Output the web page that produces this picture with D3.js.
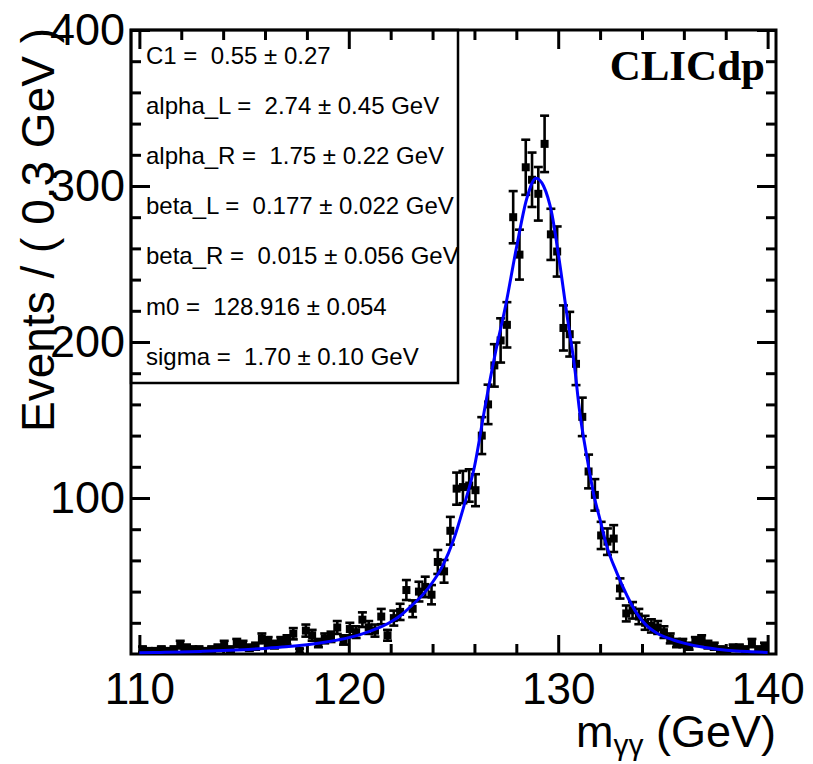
<!DOCTYPE html>
<html>
<head>
<meta charset="utf-8">
<script src="https://cdn.jsdelivr.net/npm/d3@7"></script>
<style>
  html, body { margin: 0; padding: 0; background: #fff; }
  svg text { font-family: "Liberation Sans", Arial, sans-serif; fill: #000; white-space: pre; }
</style>
</head>
<body>
<svg id="chart" width="813" height="764"></svg>
<script>
// Histogram binning: 100 bins of 0.3 GeV starting at 110 GeV
const binLow = 110;
const binWidth = 0.3;

// Events per bin
const counts = [
  3, 2, 2, 3, 2, 3, 6, 4, 3, 3,
  2, 3, 4, 6, 3, 7, 6, 4, 5, 10,
  8, 6, 8, 9, 13, 2, 15, 12, 7, 10,
  11, 17, 9, 16, 14, 22, 17, 15, 24, 12,
  23, 27, 41, 29, 40, 43, 38, 59, 53, 79,
  106, 107, 108, 105, 140, 160, 185, 201, 211, 280,
  256, 312, 304, 295, 327, 269, 258, 209, 205, 186,
  152, 117, 102, 76, 72, 74, 42, 26, 28, 24,
  20, 18, 17, 14, 10, 7, 7, 5, 8, 9,
  6, 5, 3, 2, 4, 4, 3, 7, 3, 5
];

// Fitted signal shape, sampled along m_yy
const fitX = [110.0, 111.0, 112.0, 113.0, 114.0, 115.0, 116.0, 117.0, 118.0, 119.0,
  120.0, 121.0, 122.0, 122.5, 123.0, 123.5, 124.0, 124.5, 125.0, 125.5,
  126.0, 126.5, 127.0, 127.5, 128.0, 128.5, 128.94, 129.3, 129.7, 130.0,
  130.4, 130.8, 131.0, 131.4, 131.7, 132.0, 132.3, 132.8, 133.3, 133.75,
  134.2, 134.7, 135.5, 136.0, 137.0, 137.6, 138.5, 139.2, 140.0];
const fitY = [0.8, 1.0, 1.3, 1.7, 2.2, 2.8, 3.6, 4.6, 6.0, 7.9,
  10.5, 14.5, 20.5, 25, 31, 37.5, 46, 57, 73, 95,
  120, 158, 193, 224, 260, 292, 305, 300, 282, 257,
  219, 182, 158, 124, 102, 86, 70, 52, 37, 26,
  18.5, 13.5, 9, 7, 4.2, 3.1, 2.0, 1.5, 1.0];

// Axis ticks
const xMajorTicks = [110, 120, 130, 140];
const xMinorTicks = [112, 114, 116, 118, 122, 124, 126, 128, 132, 134, 136, 138];
const yMajorTicks = [100, 200, 300, 400];
const yMinorTicks = [20, 40, 60, 80, 120, 140, 160, 180, 220, 240, 260, 280, 320, 340, 360, 380];

// Fit result box
const fitParams = [
  "C1 =  0.55 \u00b1 0.27",
  "alpha_L =  2.74 \u00b1 0.45 GeV",
  "alpha_R =  1.75 \u00b1 0.22 GeV",
  "beta_L =  0.177 \u00b1 0.022 GeV",
  "beta_R =  0.015 \u00b1 0.056 GeV",
  "m0 =  128.916 \u00b1 0.054",
  "sigma =  1.70 \u00b1 0.10 GeV"
];

const svg = d3.select("#chart");
svg.append("rect").attr("width", 813).attr("height", 764).attr("fill", "#fff");

const frame = { left: 131, right: 776, top: 30, bottom: 654 };
const x = d3.scaleLinear().domain([109.6, 140.4]).range([frame.left, frame.right]);
const y = d3.scaleLinear().domain([0, 400]).range([frame.bottom, frame.top]);

// Parameter box (drawn below the axes so the ticks stay visible)
svg.append("rect")
  .attr("x", frame.left).attr("y", frame.top)
  .attr("width", 327).attr("height", 353)
  .attr("fill", "#fff").attr("stroke", "#000").attr("stroke-width", 2.5);

svg.append("g").selectAll("text").data(fitParams).join("text")
  .attr("x", 146)
  .attr("y", (d, i) => 64 + i * 50.1)
  .attr("font-size", 24)
  .text(d => d);

// Axes: major and minor ticks point into the frame on all four sides
function styleAxis(g) {
  g.select(".domain").remove();
  g.selectAll(".tick line").attr("stroke", "#000").attr("stroke-width", 3);
}

const major = 19, minor = 10;

svg.append("g").attr("transform", `translate(0,${frame.bottom})`)
  .call(d3.axisBottom(x).tickValues(xMinorTicks).tickSizeInner(-minor).tickFormat(""))
  .call(styleAxis);
svg.append("g").attr("transform", `translate(0,${frame.bottom})`)
  .call(d3.axisBottom(x).tickValues(xMajorTicks).tickSizeInner(-major).tickPadding(19).tickFormat(d3.format("d")))
  .call(styleAxis)
  .call(g => g.selectAll("text").attr("font-size", 44).attr("font-family", "Liberation Sans, Arial, sans-serif").attr("fill", "#000"));

svg.append("g").attr("transform", `translate(0,${frame.top})`)
  .call(d3.axisTop(x).tickValues(xMinorTicks).tickSizeInner(-minor).tickFormat(""))
  .call(styleAxis);
svg.append("g").attr("transform", `translate(0,${frame.top})`)
  .call(d3.axisTop(x).tickValues(xMajorTicks).tickSizeInner(-major).tickFormat(""))
  .call(styleAxis);

svg.append("g").attr("transform", `translate(${frame.left},0)`)
  .call(d3.axisLeft(y).tickValues(yMinorTicks).tickSizeInner(-minor).tickFormat(""))
  .call(styleAxis);
svg.append("g").attr("transform", `translate(${frame.left},0)`)
  .call(d3.axisLeft(y).tickValues(yMajorTicks).tickSizeInner(-major).tickPadding(6).tickFormat(d3.format("d")))
  .call(styleAxis)
  .call(g => g.selectAll("text").attr("font-size", 45).attr("font-family", "Liberation Sans, Arial, sans-serif").attr("fill", "#000"));

svg.append("g").attr("transform", `translate(${frame.right},0)`)
  .call(d3.axisRight(y).tickValues(yMinorTicks).tickSizeInner(-minor).tickFormat(""))
  .call(styleAxis);
svg.append("g").attr("transform", `translate(${frame.right},0)`)
  .call(d3.axisRight(y).tickValues(yMajorTicks).tickSizeInner(-major).tickFormat(""))
  .call(styleAxis);

// Plot frame
svg.append("rect")
  .attr("x", frame.left).attr("y", frame.top)
  .attr("width", frame.right - frame.left).attr("height", frame.bottom - frame.top)
  .attr("fill", "none").attr("stroke", "#000").attr("stroke-width", 3);

// Data points with Poisson error bars
const points = counts.map((c, i) => ({ m: binLow + binWidth * (i + 0.5), n: c, e: Math.sqrt(c) }));
const capHalf = 4.5, markerSize = 8;
const pts = svg.append("g").attr("stroke", "#000").attr("stroke-width", 2.6);
pts.selectAll("line.ey").data(points).join("line").attr("class", "ey")
  .attr("x1", d => x(d.m)).attr("x2", d => x(d.m))
  .attr("y1", d => y(d.n - d.e)).attr("y2", d => y(d.n + d.e));
pts.selectAll("line.ex").data(points).join("line").attr("class", "ex")
  .attr("x1", d => x(d.m - binWidth / 2)).attr("x2", d => x(d.m + binWidth / 2))
  .attr("y1", d => y(d.n)).attr("y2", d => y(d.n));
pts.selectAll("line.ct").data(points).join("line").attr("class", "ct")
  .attr("x1", d => x(d.m) - capHalf).attr("x2", d => x(d.m) + capHalf)
  .attr("y1", d => y(d.n + d.e)).attr("y2", d => y(d.n + d.e));
pts.selectAll("line.cb").data(points).join("line").attr("class", "cb")
  .attr("x1", d => x(d.m) - capHalf).attr("x2", d => x(d.m) + capHalf)
  .attr("y1", d => y(Math.max(d.n - d.e, 0))).attr("y2", d => y(Math.max(d.n - d.e, 0)));
svg.append("g").selectAll("rect").data(points).join("rect")
  .attr("x", d => x(d.m) - markerSize / 2).attr("y", d => y(d.n) - markerSize / 2)
  .attr("width", markerSize).attr("height", markerSize).attr("fill", "#000");

// Fit curve
const fit = fitX.map((m, i) => [m, fitY[i]]);
svg.append("path").datum(fit)
  .attr("fill", "none").attr("stroke", "#0000ff").attr("stroke-width", 3)
  .attr("d", d3.line().x(d => x(d[0])).y(d => y(d[1])).curve(d3.curveMonotoneX));

// Experiment label
svg.append("text")
  .attr("x", 765).attr("y", 80).attr("text-anchor", "end")
  .attr("font-weight", "bold").attr("font-size", 43)
  .style("font-family", "'Liberation Serif', 'Times New Roman', serif")
  .text("CLICdp");

// Axis titles
svg.append("text")
  .attr("transform", "translate(54,28) rotate(-90)")
  .attr("text-anchor", "end").attr("font-size", 46)
  .text("Events / ( 0.3 GeV )");

const xt = svg.append("text").attr("x", 776).attr("y", 747)
  .attr("text-anchor", "end").attr("font-size", 45);
xt.append("tspan").text("m");
xt.append("tspan").attr("font-size", 30).attr("dy", 8).text("\u03b3\u03b3");
xt.append("tspan").attr("dy", -8).text(" (GeV)");
</script>
</body>
</html>
